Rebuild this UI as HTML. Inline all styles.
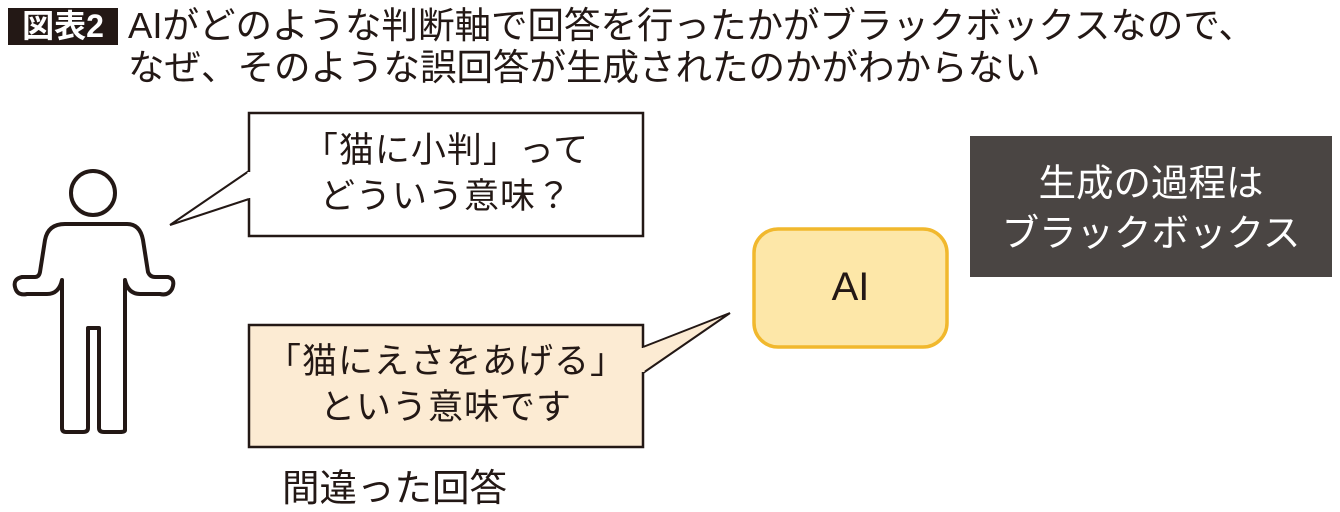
<!DOCTYPE html>
<html><head><meta charset="utf-8"><style>
body{margin:0;width:1340px;height:512px;background:#fff;position:relative;overflow:hidden;font-family:"Liberation Sans","Noto Sans CJK JP",sans-serif;color:#231815}
.a{position:absolute;white-space:nowrap}
</style></head><body>
<div class="a" style="left:8px;top:8px;width:110px;height:37px;background:#231815;color:#fff;font-size:32px;line-height:37px;text-align:center;font-weight:bold">図表2</div>
<div class="a" style="left:128px;top:5px;font-size:36.5px;line-height:42px;">AIがどのような判断軸で回答を行ったかがブラックボックスなので、<br>なぜ、そのような誤回答が生成されたのかがわからない</div>
<svg class="a" style="left:0;top:0" width="1340" height="512">
<rect x="249" y="113" width="394" height="123" fill="#fff" stroke="#231815" stroke-width="2.5"/>
<polyline points="249,171 170,225 249,199" fill="#fff" stroke="#231815" stroke-width="2"/>
<line x1="249" y1="172" x2="249" y2="198" stroke="#fff" stroke-width="3"/>
<rect x="249" y="325" width="394" height="122" fill="#fcebd3" stroke="#231815" stroke-width="2.5"/>
<polyline points="643,347 730,313 643,373" fill="#fcebd3" stroke="#231815" stroke-width="2"/>
<line x1="643" y1="348" x2="643" y2="372" stroke="#fcebd3" stroke-width="3"/>
<rect x="754" y="229" width="193" height="118" rx="24" fill="#fde7a8" stroke="#f1b82d" stroke-width="3.5"/>
<rect x="970" y="136" width="362" height="141" fill="#4a4543"/>
<g fill="none" stroke="#231815" stroke-width="4" stroke-linejoin="round">
<circle cx="93" cy="193" r="22"/>
<path d="M65,224 H127 Q140,224 143,240 L148,272 Q150,277 155,277 H168 Q176,279 172,289 Q168,296 160,294 H140 Q128,294 125,280 V430 Q125,432 120,432 H104 Q99,432 99,428 V328 H88 V428 Q88,432 83,432 H66 Q62,432 62,428 V280 Q59,294 47,294 H27 Q17,296 15,287 Q13,279 22,277 H35 Q39,277 40,272 L45,240 Q48,224 65,224 Z"/>
</g>
</svg>
<div class="a" style="left:249px;top:128px;width:394px;text-align:center;font-size:35px;line-height:46px;letter-spacing:1px">「猫に小判」って<br>どういう意味？</div>
<div class="a" style="left:249px;top:339px;width:394px;text-align:center;font-size:35px;line-height:46px;letter-spacing:1px">「猫にえさをあげる」<br>という意味です</div>
<div class="a" style="left:754px;top:264px;width:193px;text-align:center;font-size:40px;line-height:46px">AI</div>
<div class="a" style="left:970px;top:158px;width:362px;text-align:center;font-size:37.5px;line-height:50px;color:#fff">生成の過程は<br>ブラックボックス</div>
<div class="a" style="left:282px;top:467px;font-size:37.5px;line-height:42px">間違った回答</div>
</body></html>
